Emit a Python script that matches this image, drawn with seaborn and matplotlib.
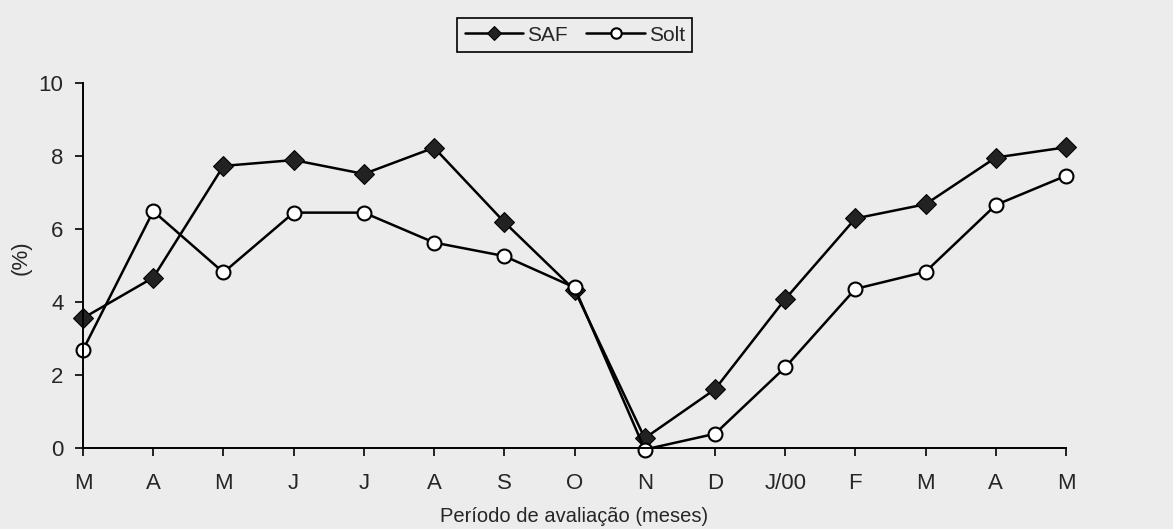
import numpy as np
import pandas as pd
import matplotlib
matplotlib.use("Agg")
import matplotlib.pyplot as plt
import seaborn as sns

# Month labels (evaluation period)
months = ["M", "A", "M", "J", "J", "A", "S", "O", "N", "D", "J/00", "F", "M", "A", "M"]

# Values (%)
saf = [3.55, 4.66, 7.72, 7.88, 7.50, 8.22, 6.18, 4.32, 0.26, 1.60, 4.07, 6.28, 6.67, 7.95, 8.23]
solt = [2.68, 6.48, 4.80, 6.44, 6.44, 5.62, 5.25, 4.39, -0.05, 0.38, 2.20, 4.35, 4.82, 6.65, 7.45]

df = pd.DataFrame({"pos": np.arange(len(months)), "SAF": saf, "Solt": solt})

sns.set_style("ticks")
plt.rcParams["font.family"] = ["Liberation Sans", "DejaVu Sans"]

bg = "#ececec"
fig = plt.figure(figsize=(11.73, 5.29), dpi=100, facecolor=bg)
ax = fig.add_axes([0.0708, 0.1537, 0.838, 0.690])
ax.set_facecolor(bg)

sns.lineplot(data=df, x="pos", y="SAF", ax=ax, color="black", lw=1.8,
             marker="D", markersize=10, markerfacecolor="#222222",
             markeredgecolor="black", label="SAF", clip_on=False)
sns.lineplot(data=df, x="pos", y="Solt", ax=ax, color="black", lw=1.8,
             marker="o", markersize=10, markerfacecolor="white",
             markeredgecolor="black", markeredgewidth=1.5, label="Solt", clip_on=False)

ax.set_xlim(0, len(months) - 1)
ax.set_ylim(0, 10)
ax.set_xticks(df["pos"])
ax.set_xticklabels(months)
ax.set_yticks([0, 2, 4, 6, 8, 10])
ax.tick_params(labelsize=16, length=6, width=1.2, color="black", direction="out", pad=12)
ax.tick_params(axis="y", pad=8)
for s in ["top", "right"]:
    ax.spines[s].set_visible(False)
for s in ["left", "bottom"]:
    ax.spines[s].set_linewidth(1.4)
    ax.spines[s].set_color("black")

ax.set_xlabel("Período de avaliação (meses)", fontsize=14.5)
ax.xaxis.set_label_coords(0.5, -0.163)
ax.set_ylabel("(%)", fontsize=16)
ax.yaxis.set_label_coords(-0.052, 0.52)

leg = ax.legend(loc="upper center", bbox_to_anchor=(0.49, 0.985),
                bbox_transform=fig.transFigure, ncol=2, fontsize=15,
                frameon=True, fancybox=False, handlelength=2.8, markerscale=0.75,
                handletextpad=0.2, columnspacing=0.9, borderpad=0.35)
leg.get_frame().set_edgecolor("black")
leg.get_frame().set_facecolor(bg)
leg.get_frame().set_linewidth(1.2)
leg.get_frame().set_alpha(1)

fig.savefig("out.png", dpi=100, facecolor=bg)
